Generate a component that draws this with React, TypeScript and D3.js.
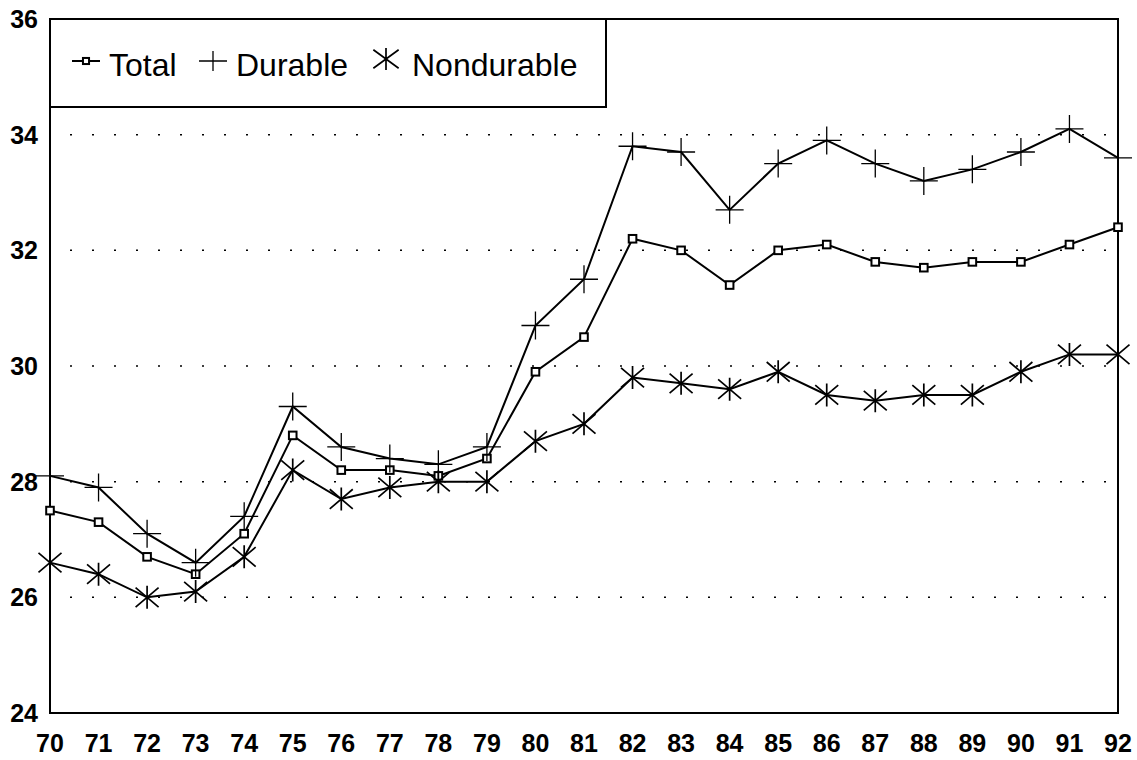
import { useEffect, useRef } from "react";
import * as d3 from "d3";

const years = [70, 71, 72, 73, 74, 75, 76, 77, 78, 79, 80, 81, 82, 83, 84, 85, 86, 87, 88, 89, 90, 91, 92];

const total = [27.5, 27.3, 26.7, 26.4, 27.1, 28.8, 28.2, 28.2, 28.1, 28.4, 29.9, 30.5, 32.2, 32.0, 31.4, 32.0, 32.1, 31.8, 31.7, 31.8, 31.8, 32.1, 32.4];
const durable = [28.1, 27.9, 27.1, 26.6, 27.4, 29.3, 28.6, 28.4, 28.3, 28.6, 30.7, 31.5, 33.8, 33.7, 32.7, 33.5, 33.9, 33.5, 33.2, 33.4, 33.7, 34.1, 33.6];
const nondurable = [26.6, 26.4, 26.0, 26.1, 26.7, 28.2, 27.7, 27.9, 28.0, 28.0, 28.7, 29.0, 29.8, 29.7, 29.6, 29.9, 29.5, 29.4, 29.5, 29.5, 29.9, 30.2, 30.2];

const yTicks = [24, 26, 28, 30, 32, 34, 36];
const gridTicks = [26, 28, 30, 32, 34];
const seriesNames = ["Total", "Durable", "Nondurable"];

type Marker = "square" | "plus" | "star";

const FONT = "Liberation Sans, Arial, Helvetica, sans-serif";

function drawMarker(
  g: d3.Selection<SVGGElement, unknown, null, undefined>,
  kind: Marker, cx: number, cy: number, rx = 1, ry = 1
) {
  if (kind === "square") {
    g.append("rect")
      .attr("x", cx - 3.8 * rx).attr("y", cy - 3.8 * rx)
      .attr("width", 7.6 * rx).attr("height", 7.6 * rx)
      .attr("fill", "#fff").attr("stroke", "#000").attr("stroke-width", 2);
  } else if (kind === "plus") {
    const h = 14 * rx, v = 14 * ry;
    g.append("path")
      .attr("d", `M${cx - h},${cy}H${cx + h}M${cx},${cy - v}V${cy + v}`)
      .attr("stroke", "#000").attr("stroke-width", 1.3).attr("fill", "none");
  } else {
    const h = 11.5 * rx, v = 11.5 * ry;
    g.append("path")
      .attr("d", `M${cx},${cy - v}V${cy + v}M${cx - h},${cy - v * 0.85}L${cx + h},${cy + v * 0.85}M${cx - h},${cy + v * 0.85}L${cx + h},${cy - v * 0.85}`)
      .attr("stroke", "#000").attr("stroke-width", 1.7).attr("fill", "none");
  }
}

export default function App() {
  const svgRef = useRef<SVGSVGElement>(null);

  useEffect(() => {
    if (!svgRef.current) return;
    const svg = d3.select(svgRef.current);
    svg.selectAll("*").remove();

    const left = 50, right = 1118, top = 19, bottom = 713;

    const x = d3.scaleLinear().domain([70, 92]).range([left, right]);
    const y = d3.scaleLinear().domain([24, 36]).range([bottom, top]);

    const g = svg.append("g");

    // dotted grid
    g.selectAll(".grid")
      .data(gridTicks)
      .enter()
      .append("line")
      .attr("x1", left + 20).attr("x2", right - 10)
      .attr("y1", d => y(d)).attr("y2", d => y(d))
      .attr("stroke", "#000").attr("stroke-width", 1.5)
      .attr("stroke-dasharray", "2,20");

    // frame
    g.append("rect")
      .attr("x", left).attr("y", top)
      .attr("width", right - left).attr("height", bottom - top)
      .attr("fill", "none").attr("stroke", "#000").attr("stroke-width", 2);

    // y labels
    g.selectAll(".ylab")
      .data(yTicks)
      .enter()
      .append("text")
      .attr("x", 38).attr("y", d => y(d) + 9)
      .attr("text-anchor", "end")
      .attr("font-family", FONT)
      .attr("font-size", 25).attr("font-weight", "bold")
      .text(d => d);

    // x labels
    g.selectAll(".xlab")
      .data(years)
      .enter()
      .append("text")
      .attr("x", d => x(d)).attr("y", 752)
      .attr("text-anchor", "middle")
      .attr("font-family", FONT)
      .attr("font-size", 25).attr("font-weight", "bold")
      .text(d => d);

    const series: { values: number[]; marker: Marker }[] = [
      { values: total, marker: "square" },
      { values: durable, marker: "plus" },
      { values: nondurable, marker: "star" },
    ];

    const line = d3.line<number>()
      .x((_, i) => x(years[i]))
      .y(d => y(d));

    series.forEach(s => {
      g.append("path")
        .datum(s.values)
        .attr("fill", "none")
        .attr("stroke", "#000")
        .attr("stroke-width", 2)
        .attr("d", line);
    });
    series.forEach(s => {
      s.values.forEach((v, i) => drawMarker(g, s.marker, x(years[i]), y(v)));
    });

    // legend
    const lg = g.append("g");
    lg.append("rect")
      .attr("x", left).attr("y", top)
      .attr("width", 556).attr("height", 88)
      .attr("fill", "#fff").attr("stroke", "#000").attr("stroke-width", 2);

    const legendItems = [
      { name: seriesNames[0], marker: "square" as Marker, mx: 86, tx: 109 },
      { name: seriesNames[1], marker: "plus" as Marker, mx: 213, tx: 236 },
      { name: seriesNames[2], marker: "star" as Marker, mx: 386, tx: 412 },
    ];
    const my = 61;
    legendItems.forEach(it => {
      if (it.marker === "square") {
        lg.append("line")
          .attr("x1", it.mx - 14).attr("x2", it.mx + 14)
          .attr("y1", my).attr("y2", my)
          .attr("stroke", "#000").attr("stroke-width", 2);
        drawMarker(lg, it.marker, it.mx, my, 0.8);
      } else if (it.marker === "plus") {
        drawMarker(lg, it.marker, it.mx, my, 1, 0.72);
      } else {
        drawMarker(lg, it.marker, it.mx, my - 2, 1.1, 0.95);
      }
      lg.append("text")
        .attr("x", it.tx).attr("y", 76)
        .attr("font-family", FONT)
        .attr("font-size", 32)
        .text(it.name);
    });
  }, []);

  return (
    <svg
      ref={svgRef}
      width={1137}
      height={760}
      style={{ position: "absolute", left: 0, top: 0, background: "#fff" }}
    />
  );
}
